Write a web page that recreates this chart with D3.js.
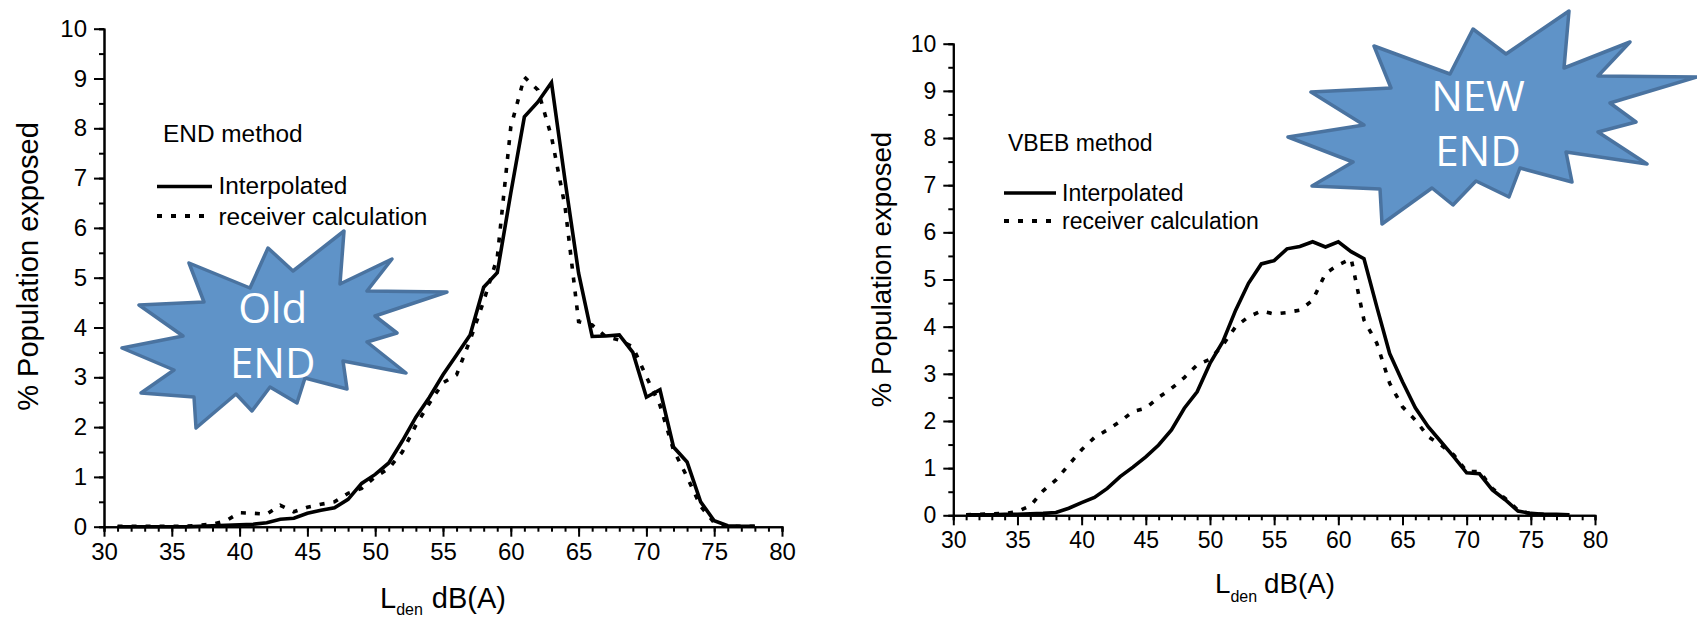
<!DOCTYPE html>
<meta charset="UTF-8">
<style>
body { margin: 0; background: #fff; }
svg { display: block; }
text { font-family: "Liberation Sans", Arial, sans-serif; fill: #000; }
.domain, .tick line { stroke: #000; stroke-width: 2px; }
.curve { fill: none; stroke: #000; stroke-linejoin: miter; }
.burst { fill: #5f93c8; stroke: #4a73a0; stroke-width: 3.5px; stroke-linejoin: round; }
.burst-text { font-family: "Open Sans", sans-serif; fill: #fff; text-anchor: middle; font-size: 42px; }
</style>
<body>
<script src="https://d3js.org/d3.v7.min.js"></script>
<script>

// L_den classes, 31 to 78 dB(A)
var levels = d3.range(31, 79);

var endInterpolated = [0, 0, 0, 0, 0, 0, 0.01, 0.02, 0.03, 0.04, 0.05, 0.08, 0.15, 0.17, 0.27, 0.33, 0.38, 0.55, 0.87, 1.05, 1.28, 1.72, 2.2, 2.6, 3.05, 3.45, 3.85, 4.81, 5.1, 6.7, 8.23, 8.53, 8.92, 6.95, 5.09, 3.82, 3.83, 3.85, 3.5, 2.6, 2.75, 1.6, 1.3, 0.5, 0.12, 0.02, 0.01, 0.01];
var endReceiver = [0.01, 0.01, 0.01, 0.01, 0.01, 0.01, 0.03, 0.05, 0.12, 0.28, 0.27, 0.25, 0.43, 0.3, 0.39, 0.45, 0.5, 0.67, 0.77, 1.0, 1.17, 1.5, 2.04, 2.48, 2.89, 3.05, 3.75, 4.53, 5.4, 8.03, 9.03, 8.77, 7.83, 6.43, 4.12, 4.05, 3.82, 3.75, 3.61, 3.01, 2.44, 1.54, 1.0, 0.41, 0.08, 0.01, 0.01, 0.01];

var vbebInterpolated = [0.01, 0.01, 0.01, 0.02, 0.02, 0.03, 0.04, 0.06, 0.15, 0.27, 0.38, 0.57, 0.82, 1.02, 1.24, 1.49, 1.81, 2.27, 2.62, 3.22, 3.68, 4.35, 4.92, 5.33, 5.4, 5.65, 5.7, 5.8, 5.69, 5.8, 5.59, 5.44, 4.42, 3.43, 2.83, 2.28, 1.88, 1.56, 1.24, 0.9, 0.88, 0.54, 0.33, 0.09, 0.04, 0.02, 0.02, 0.01];
var vbebReceiver = [0.01, 0.02, 0.03, 0.04, 0.08, 0.2, 0.52, 0.75, 1.07, 1.39, 1.65, 1.81, 1.99, 2.2, 2.27, 2.5, 2.69, 2.92, 3.19, 3.31, 3.61, 4.0, 4.21, 4.33, 4.27, 4.3, 4.35, 4.56, 5.13, 5.31, 5.44, 4.14, 3.65, 2.8, 2.3, 2.02, 1.67, 1.49, 1.28, 0.93, 0.93, 0.57, 0.36, 0.11, 0.03, 0.02, 0.01, 0.01];

var xTicks = d3.range(30, 81, 5);
var xMinorTicks = d3.range(30, 81, 1);
var yTicks = d3.range(0, 11, 1);
var yMinorTicks = d3.range(0, 10.5, 0.5);

var yTitle = "% Population exposed";
var seriesNames = ["Interpolated", "receiver calculation"];

// starburst callouts, traced in page pixels
var oldBurst = [[189,263],[250,288],[268,248],[293,271],[344,231],[340,284],[392,259],[367,291],[447,292],[375,316],[397,333],[367,342],[406,373],[343,361],[347,389],[305,378],[297,403],[270,387],[252,411],[236,394],[196,428],[194,397],[141,393],[174,370],[122,348],[183,336],[139,305],[204,302]];
var newBurst = [[1374,46],[1450,74],[1473,29],[1506,54],[1569,11],[1564,68],[1630,42],[1598,76],[1697,77],[1610,103],[1636,122],[1598,132],[1647,164],[1566,152],[1572,182],[1520,168],[1509,197],[1476,181],[1453,205],[1432,188],[1382,224],[1380,189],[1312,186],[1353,162],[1288,137],[1364,125],[1311,92],[1391,88]];

var svg = d3.select("body").append("svg")
    .attr("width", 1697)
    .attr("height", 619);

drawChart({
  x0: 104, x1: 782, y0: 526.7, y1: 28.7,
  tickFont: 24, titleFont: 29, legendFont: 24.4,
  yTitleX: 37.5, yTitleY: 266.5,
  xTitleX: 380, xTitleY: 608, subDy: 7, dbGap: 9,
  title: "END method", titleX: 163, titleY: 142,
  legendTextX: 218.5, legendLineX: [157, 212], legendY: [194, 225], legendLineY: [186.5, 216],
  interpolated: endInterpolated, receiver: endReceiver
});

drawChart({
  x0: 953.3, x1: 1595, y0: 515.3, y1: 43.7,
  tickFont: 23, titleFont: 27.7, legendFont: 23,
  yTitleX: 890.5, yTitleY: 269.5,
  xTitleX: 1215, xTitleY: 592.7, subDy: 9, dbGap: 7,
  title: "VBEB method", titleX: 1008, titleY: 150.7,
  legendTextX: 1062, legendLineX: [1004, 1056], legendY: [200.7, 229], legendLineY: [193, 221],
  interpolated: vbebInterpolated, receiver: vbebReceiver
});

drawBurst(oldBurst, ["Old", "END"], 272.7, [322.7, 378]);
drawBurst(newBurst, ["NEW", "END"], 1478, [111, 166]);

function drawChart(c) {
  var x = d3.scaleLinear().domain([30, 80]).range([c.x0, c.x1]);
  var y = d3.scaleLinear().domain([0, 10]).range([c.y0, c.y1]);

  var g = svg.append("g");

  // minor ticks first, then the labelled axes on top
  g.append("g")
      .attr("transform", "translate(0," + c.y0 + ")")
      .call(d3.axisBottom(x).tickValues(xMinorTicks).tickSize(5).tickFormat(""));
  g.append("g")
      .attr("transform", "translate(" + c.x0 + ",0)")
      .call(d3.axisLeft(y).tickValues(yMinorTicks).tickSize(5).tickFormat(""));

  var line = d3.line()
      .x(function(d, i) { return x(levels[i]); })
      .y(function(d) { return y(d); });

  g.append("path").datum(c.receiver)
      .attr("class", "curve")
      .attr("d", line)
      .attr("stroke-width", 3.6)
      .attr("stroke-dasharray", "5 9");
  g.append("path").datum(c.interpolated)
      .attr("class", "curve")
      .attr("d", line)
      .attr("stroke-width", 3.6);

  var xAxis = g.append("g")
      .attr("transform", "translate(0," + c.y0 + ")")
      .call(d3.axisBottom(x).tickValues(xTicks).tickSize(10).tickSizeOuter(0).tickPadding(6));
  var yAxis = g.append("g")
      .attr("transform", "translate(" + c.x0 + ",0)")
      .call(d3.axisLeft(y).tickValues(yTicks).tickSize(10).tickSizeOuter(0).tickPadding(7));
  xAxis.selectAll("text").attr("font-size", c.tickFont);
  yAxis.selectAll("text").attr("font-size", c.tickFont);

  // axis titles
  g.append("text")
      .attr("transform", "translate(" + c.yTitleX + "," + c.yTitleY + ") rotate(-90)")
      .attr("text-anchor", "middle")
      .attr("font-size", c.titleFont)
      .text(yTitle);

  var xTitle = g.append("text")
      .attr("x", c.xTitleX)
      .attr("y", c.xTitleY)
      .attr("font-size", c.titleFont);
  xTitle.append("tspan").text("L");
  xTitle.append("tspan").attr("dy", c.subDy).attr("font-size", 16).text("den");
  xTitle.append("tspan").attr("dy", -c.subDy).attr("dx", c.dbGap).text("dB(A)");

  // legend
  g.append("text")
      .attr("x", c.titleX)
      .attr("y", c.titleY)
      .attr("font-size", c.legendFont)
      .text(c.title);

  seriesNames.forEach(function(name, i) {
    g.append("text")
        .attr("x", c.legendTextX)
        .attr("y", c.legendY[i])
        .attr("font-size", c.legendFont)
        .text(name);
    g.append("line")
        .attr("x1", c.legendLineX[0])
        .attr("x2", c.legendLineX[1])
        .attr("y1", c.legendLineY[i])
        .attr("y2", c.legendLineY[i])
        .attr("stroke", "#000")
        .attr("stroke-width", i == 0 ? 3.5 : 4)
        .attr("stroke-dasharray", i == 0 ? null : "5 9");
  });
}

function drawBurst(points, lines, textX, textY) {
  svg.append("path")
      .attr("class", "burst")
      .attr("d", d3.line()(points) + "Z");
  lines.forEach(function(t, i) {
    svg.append("text")
        .attr("class", "burst-text")
        .attr("x", textX)
        .attr("y", textY[i])
        .text(t);
  });
}

</script>
</body>
